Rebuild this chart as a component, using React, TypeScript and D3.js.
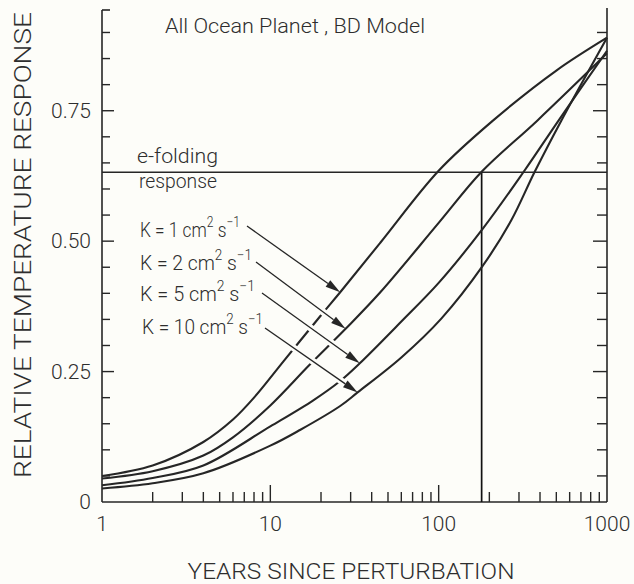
import React from 'react';
import * as d3 from 'd3';

const W = 634;
const H = 584;

// Relative temperature response [years, response] for each vertical diffusivity K
const responseK1: [number, number][] = [
  [1, 0.05], [2, 0.07], [4, 0.115], [6, 0.158], [8, 0.2], [12, 0.27],
  [20, 0.358], [26, 0.402], [45, 0.497], [100, 0.635], [210, 0.731],
  [500, 0.827], [1000, 0.89],
];
const responseK2: [number, number][] = [
  [1, 0.045], [2, 0.059], [4, 0.089], [6, 0.124], [10, 0.185], [17, 0.262],
  [28, 0.332], [45, 0.402], [100, 0.535], [180, 0.633], [385, 0.731],
  [1000, 0.86],
];
const responseK5: [number, number][] = [
  [1, 0.032], [2, 0.046], [4, 0.07], [10, 0.145], [18, 0.195], [26, 0.232],
  [34, 0.266], [60, 0.346], [100, 0.42], [183, 0.524], [320, 0.633],
  [520, 0.733], [1000, 0.865],
];
const responseK10: [number, number][] = [
  [1, 0.026], [2, 0.036], [4, 0.055], [10, 0.108], [15, 0.138], [26, 0.184],
  [33, 0.21], [60, 0.277], [104, 0.352], [183, 0.453], [270, 0.54],
  [372, 0.633], [535, 0.731], [1000, 0.89],
];

const seriesList = [responseK1, responseK2, responseK5, responseK10];
const kValues = ['1', '2', '5', '10'];
// year on each curve that its label arrow points at
const arrowYears = [26, 28, 34, 33];

const xTickValues = [1, 10, 100, 1000];
const xTickLabels = ['1', '10', '100', '1000'];
const yTickValues = [0, 0.25, 0.5, 0.75];
const yTickLabels = ['0', '0.25', '0.50', '0.75'];

const eFoldingLevel = 1 - 1 / Math.E;
const eFoldingYears = 180;

const INK = '#262626';
const TEXT_INK = '#2e2e2e';
const PAPER = '#fdfdf9';
const FONT = "Roboto, 'Liberation Sans', Arial, sans-serif";

// label placement and arrow start point
const labelBoxes = [
  { x: 140, y: 237, w: 100, ax: 247, ay: 226 },
  { x: 140, y: 270, w: 112, ax: 256, ay: 262 },
  { x: 140, y: 301, w: 115, ax: 262, ay: 293 },
  { x: 142, y: 334, w: 121, ax: 265, ay: 328 },
];

export default function App() {
  const x = d3.scaleLog().domain([1, 1000]).range([102, 607]);
  const y = d3.scaleLinear().domain([0, 0.945]).range([502, 9]);

  const line = d3
    .line<[number, number]>()
    .x((d) => x(d[0]))
    .y((d) => y(d[1]))
    .curve(d3.curveCatmullRom.alpha(0.5));

  const x0 = x.range()[0];
  const x1 = x.range()[1];
  const yBottom = y(0);
  const yTop = y.range()[1];

  const xMinor = x.ticks().filter((t) => t > 1 && t < 1000);
  const yMinor = y.ticks(20).filter((t) => t > 0);
  const isMajorY = (t: number) => Math.abs(t / 0.25 - Math.round(t / 0.25)) < 1e-6;
  const isMajorX = (t: number) => xTickValues.includes(t);

  const arrows = seriesList.map((s, i) => {
    const pt = s.find((d) => d[0] === arrowYears[i])!;
    const tx = x(pt[0]);
    const ty = y(pt[1]);
    const { ax, ay } = labelBoxes[i];
    const dx = tx - ax;
    const dy = ty - ay;
    const len = Math.hypot(dx, dy);
    const ux = dx / len;
    const uy = dy / len;
    const headLen = 15;
    const headW = 4;
    const bx = tx - ux * headLen;
    const by = ty - uy * headLen;
    const head = `M${tx},${ty}L${bx - uy * headW},${by + ux * headW}L${bx + uy * headW},${by - ux * headW}Z`;
    return { ax, ay, bx, by, head, hx: tx - ux * (headLen + 2), hy: ty - uy * (headLen + 2) };
  });

  return (
    <svg
      width={W}
      height={H}
      style={{ position: 'absolute', left: 0, top: 0, background: PAPER }}
      fontFamily={FONT}
      fontWeight={300}
    >
      <rect width={W} height={H} fill={PAPER} />

      {/* frame: left and right axes, bottom axis */}
      <g stroke={INK} strokeWidth={1.6} fill="none">
        <line x1={x0} y1={yBottom} x2={x0} y2={yTop + 1} />
        <line x1={x0} y1={yTop + 1} x2={x0 + 8} y2={yTop + 1} />
        <line x1={x1} y1={yBottom} x2={x1} y2={yTop - 1} />
        <line x1={x0} y1={yBottom} x2={x1} y2={yBottom} />
      </g>

      {/* y ticks, pointing inward on both sides */}
      <g stroke={INK} strokeWidth={1.4}>
        {yMinor.map((t) => (
          <g key={`yt${t}`}>
            <line x1={x0} x2={x0 + (isMajorY(t) ? 12 : 8)} y1={y(t)} y2={y(t)} />
            <line x1={x1} x2={x1 - (isMajorY(t) ? 14 : 10)} y1={y(t)} y2={y(t)} />
          </g>
        ))}
      </g>

      {/* x ticks, pointing up */}
      <g stroke={INK} strokeWidth={1.4}>
        {xMinor.map((t) => (
          <line key={`xt${t}`} x1={x(t)} x2={x(t)} y1={yBottom} y2={yBottom - (isMajorX(t) ? 17 : 10)} />
        ))}
      </g>

      {/* tick labels */}
      <g fill={TEXT_INK} fontSize={21}>
        {yTickValues.map((v, i) => (
          <text key={`yl${v}`} x={91} y={y(v) + 7} textAnchor="end">
            {yTickLabels[i]}
          </text>
        ))}
        {xTickValues.map((v, i) => (
          <text key={`xl${v}`} x={x(v)} y={531} textAnchor="middle">
            {xTickLabels[i]}
          </text>
        ))}
      </g>

      {/* axis titles */}
      <text
        x={351}
        y={579}
        fontSize={22}
        fill={TEXT_INK}
        textAnchor="middle"
        textLength={327}
        lengthAdjust="spacingAndGlyphs"
      >
        YEARS SINCE PERTURBATION
      </text>
      <text
        transform="translate(31,245) rotate(-90)"
        fontSize={23}
        fill={TEXT_INK}
        textAnchor="middle"
        textLength={466}
        lengthAdjust="spacingAndGlyphs"
      >
        RELATIVE TEMPERATURE RESPONSE
      </text>

      {/* chart title */}
      <text x={165} y={33} fontSize={20} fill={TEXT_INK} textLength={260} lengthAdjust="spacingAndGlyphs">
        All Ocean Planet , BD Model
      </text>

      {/* e-folding level and the year where K = 2 reaches it */}
      <line x1={x0} x2={x1} y1={y(eFoldingLevel)} y2={y(eFoldingLevel)} stroke={INK} strokeWidth={1.5} />
      <line
        x1={x(eFoldingYears)}
        x2={x(eFoldingYears)}
        y1={yBottom}
        y2={y(eFoldingLevel)}
        stroke="#111"
        strokeWidth={1.7}
      />
      <text x={137} y={163} fontSize={20} fill={TEXT_INK} textLength={81} lengthAdjust="spacingAndGlyphs">
        e-folding
      </text>
      <text x={139} y={188} fontSize={20} fill={TEXT_INK} textLength={78} lengthAdjust="spacingAndGlyphs">
        response
      </text>

      {/* response curves */}
      <g fill="none" stroke={INK} strokeWidth={2.1}>
        {seriesList.map((s, i) => (
          <path key={`c${i}`} d={line(s) ?? ''} />
        ))}
      </g>

      {/* arrow shafts break the curves they cross */}
      <g stroke={PAPER} strokeWidth={7} strokeLinecap="butt">
        {arrows.map((a, i) => (
          <line key={`h${i}`} x1={a.ax} y1={a.ay} x2={a.hx} y2={a.hy} />
        ))}
      </g>
      <g stroke={INK} strokeWidth={1.3}>
        {arrows.map((a, i) => (
          <line key={`a${i}`} x1={a.ax} y1={a.ay} x2={a.bx} y2={a.by} />
        ))}
      </g>
      <g fill={INK}>
        {arrows.map((a, i) => (
          <path key={`ah${i}`} d={a.head} />
        ))}
      </g>

      {/* K labels */}
      <g fill={TEXT_INK}>
        {kValues.map((k, i) => {
          const b = labelBoxes[i];
          return (
            <text key={`k${k}`} x={b.x} y={b.y} fontSize={20} textLength={b.w} lengthAdjust="spacingAndGlyphs">
              {`K = ${k} cm`}
              <tspan dy={-10} fontSize={14}>2</tspan>
              <tspan dy={10}> s</tspan>
              <tspan dy={-10} fontSize={14}>−1</tspan>
            </text>
          );
        })}
      </g>
    </svg>
  );
}
